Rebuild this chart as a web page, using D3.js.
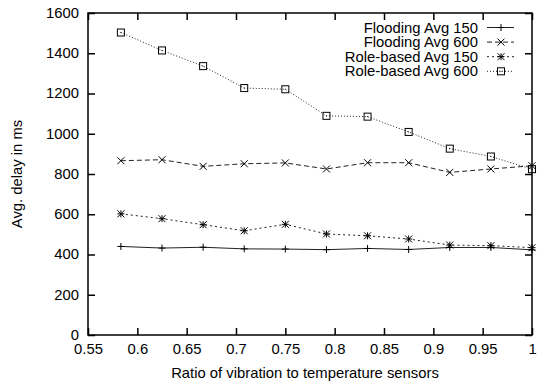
<!DOCTYPE html>
<html>
<head>
<meta charset="utf-8">
<script src="https://cdn.jsdelivr.net/npm/d3@7"></script>
<style>
  body { margin: 0; background: #fff; }
  svg { display: block; font-family: "Liberation Sans", Arial, sans-serif; }
</style>
</head>
<body>
<svg id="chart"></svg>
<script>
// ratio of vibration to temperature sensors (k/24)
var ratios = [14/24, 15/24, 16/24, 17/24, 18/24, 19/24, 20/24, 21/24, 22/24, 23/24, 24/24];
var floodingAvg150 = [440, 432, 436, 428, 427, 424, 430, 425, 435, 435, 423];
var floodingAvg600 = [866, 871, 838, 851, 855, 825, 856, 856, 808, 825, 841];
var roleAvg150 = [602, 578, 548, 518, 550, 502, 493, 477, 447, 444, 434];
var roleAvg600 = [1503, 1414, 1336, 1227, 1221, 1089, 1085, 1009, 926, 887, 824];
var xTicks = [0.55, 0.6, 0.65, 0.7, 0.75, 0.8, 0.85, 0.9, 0.95, 1];
var yTicks = [0, 200, 400, 600, 800, 1000, 1200, 1400, 1600];

var W = 537, H = 381;
var margin = {top: 13, right: 5, bottom: 46, left: 88};
var width = W - margin.left - margin.right,
    height = H - margin.top - margin.bottom;

// the reference font is a little wider than Liberation Sans
var fs = 14, sx = 1.06;

var svg = d3.select("#chart").attr("width", W).attr("height", H);
var g = svg.append("g").attr("transform", "translate(" + margin.left + "," + margin.top + ")");

var x = d3.scaleLinear().domain([0.55, 1]).range([0, width]);
var y = d3.scaleLinear().domain([0, 1600]).range([height, 0]);

var series = [
  {name: "Flooding Avg 150", values: floodingAvg150, dash: null, marker: "plus"},
  {name: "Flooding Avg 600", values: floodingAvg600, dash: "5,3", marker: "cross"},
  {name: "Role-based Avg 150", values: roleAvg150, dash: "2,3", marker: "star"},
  {name: "Role-based Avg 600", values: roleAvg600, dash: "1,2", marker: "box"}
];

function drawMarker(sel, type, cx, cy) {
  var s = 3.5;
  if (type === "plus" || type === "star") {
    sel.append("line").attr("x1", cx - s).attr("x2", cx + s).attr("y1", cy).attr("y2", cy);
    sel.append("line").attr("x1", cx).attr("x2", cx).attr("y1", cy - s).attr("y2", cy + s);
  }
  if (type === "cross" || type === "star") {
    sel.append("line").attr("x1", cx - s).attr("x2", cx + s).attr("y1", cy - s).attr("y2", cy + s);
    sel.append("line").attr("x1", cx - s).attr("x2", cx + s).attr("y1", cy + s).attr("y2", cy - s);
  }
  if (type === "box") {
    sel.append("rect").attr("x", cx - s).attr("y", cy - s).attr("width", 2 * s).attr("height", 2 * s)
      .attr("fill", "none");
    sel.append("rect").attr("x", cx - 0.5).attr("y", cy - 0.5).attr("width", 1).attr("height", 1)
      .attr("fill", "#000").attr("stroke", "none");
  }
}

function label(parent, tx, ty, str, anchor, rot) {
  var t = "translate(" + tx + "," + ty + ")" + (rot ? " rotate(" + rot + ")" : "") + " scale(" + sx + ",1)";
  return parent.append("text").attr("transform", t)
    .attr("text-anchor", anchor).attr("font-size", fs).attr("fill", "#000").text(str);
}

// data lines
var line = d3.line().x(function(d, i) { return x(ratios[i]); }).y(function(d) { return y(d); });
series.forEach(function(s) {
  g.append("path").datum(s.values)
    .attr("d", line)
    .attr("fill", "none")
    .attr("stroke", "#222")
    .attr("stroke-width", 1)
    .attr("stroke-dasharray", s.dash);
  var mg = g.append("g").attr("stroke", "#000").attr("stroke-width", 1);
  s.values.forEach(function(v, i) { drawMarker(mg, s.marker, x(ratios[i]), y(v)); });
});

// axes (gnuplot style, ticks inside and mirrored)
var tickLen = 7;
var xb = g.append("g").attr("transform", "translate(0," + height + ")")
  .call(d3.axisBottom(x).tickValues(xTicks).tickSize(-tickLen).tickPadding(9).tickFormat(d3.format("~g")));
var xt = g.append("g")
  .call(d3.axisTop(x).tickValues(xTicks).tickSize(-tickLen).tickFormat(""));
var yl = g.append("g")
  .call(d3.axisLeft(y).tickValues(yTicks).tickSize(-tickLen).tickPadding(9).tickFormat(d3.format("d")));
var yr = g.append("g").attr("transform", "translate(" + width + ",0)")
  .call(d3.axisRight(y).tickValues(yTicks).tickSize(-tickLen).tickFormat(""));

[xb, xt, yl, yr].forEach(function(a) {
  a.select(".domain").remove();
  a.selectAll(".tick line").attr("stroke", "#000").attr("stroke-width", 1.5);
  a.selectAll(".tick text")
    .attr("font-size", fs).attr("fill", "#000")
    .attr("font-family", "Liberation Sans, Arial, sans-serif")
    .attr("x", function() { return (+d3.select(this).attr("x") || 0) / sx; })
    .attr("transform", "scale(" + sx + ",1)");
});
g.append("rect").attr("x", 0).attr("y", 0).attr("width", width).attr("height", height)
  .attr("fill", "none").attr("stroke", "#000").attr("stroke-width", 1.5);

// axis labels
label(svg, margin.left + width / 2 - 5, 378, "Ratio of vibration to temperature sensors", "middle");
label(svg, 22, margin.top + height / 2, "Avg. delay in ms", "middle", -90);

// legend
var lg = svg.append("g");
series.forEach(function(s, i) {
  var ly = 27.5 + i * 14.6;
  label(lg, 478, ly + 5, s.name, "end");
  lg.append("line").attr("x1", 487).attr("x2", 514).attr("y1", ly).attr("y2", ly)
    .attr("stroke", "#222").attr("stroke-width", 1).attr("stroke-dasharray", s.dash);
  var mg = lg.append("g").attr("stroke", "#000").attr("stroke-width", 1);
  drawMarker(mg, s.marker, 501, ly);
});
</script>
</body>
</html>
